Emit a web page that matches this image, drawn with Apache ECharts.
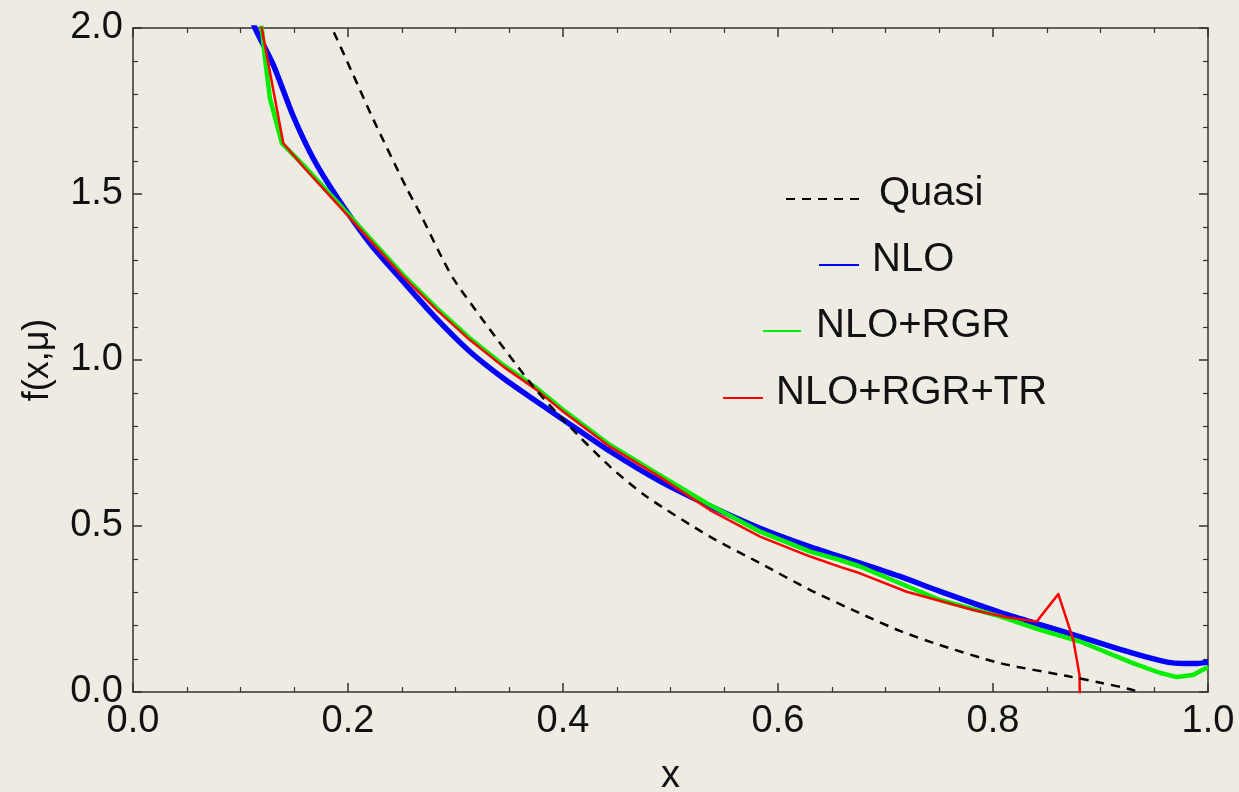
<!DOCTYPE html>
<html>
<head>
<meta charset="utf-8">
<script src="https://cdn.jsdelivr.net/npm/echarts@6/dist/echarts.min.js"></script>
<style>
html,body{margin:0;padding:0;background:#eeebe3;}
#chart{width:1239px;height:792px;}
</style>
</head>
<body>
<div id="chart"></div>
<script>
// ---- data ----
const quasiX = [0.180, 0.185, 0.204, 0.2235, 0.2546, 0.267, 0.284, 0.298, 0.3256, 0.3724, 0.4034, 0.4437, 0.478, 0.5367, 0.5833, 0.63, 0.6763, 0.7135, 0.75, 0.8065, 0.869, 0.90, 0.93, 0.94];
const quasiY = [2.03, 2.0, 1.865, 1.725, 1.517, 1.442, 1.330, 1.245, 1.120, 0.920, 0.809, 0.679, 0.588, 0.468, 0.388, 0.307, 0.237, 0.184, 0.142, 0.087, 0.048, 0.028, 0.006, -0.01];

const nloX = [0.108, 0.1135, 0.1305, 0.149, 0.1677, 0.1895, 0.2205, 0.2514, 0.2825, 0.3135, 0.3445, 0.3755, 0.404, 0.4437, 0.49, 0.5367, 0.5833, 0.63, 0.67, 0.7135, 0.7507, 0.8065, 0.8437, 0.881, 0.93, 0.962, 0.977, 0.99, 1.0];
const nloY = [2.05, 2.0, 1.889, 1.735, 1.607, 1.492, 1.351, 1.236, 1.124, 1.025, 0.945, 0.875, 0.812, 0.725, 0.635, 0.560, 0.493, 0.437, 0.395, 0.348, 0.303, 0.240, 0.203, 0.166, 0.117, 0.090, 0.086, 0.086, 0.090];

const rgrX = [0.117, 0.1197, 0.1228, 0.1274, 0.1385, 0.1584, 0.1895, 0.2205, 0.2514, 0.2825, 0.3135, 0.3445, 0.3755, 0.40, 0.4437, 0.49, 0.5367, 0.5833, 0.63, 0.6577, 0.6763, 0.7507, 0.8065, 0.8437, 0.881, 0.93, 0.955, 0.971, 0.986, 1.0];
const rgrY = [2.05, 2.0, 1.909, 1.788, 1.653, 1.587, 1.477, 1.366, 1.256, 1.156, 1.065, 0.985, 0.915, 0.850, 0.744, 0.653, 0.563, 0.483, 0.4226, 0.3976, 0.378, 0.277, 0.228, 0.187, 0.152, 0.087, 0.058, 0.045, 0.051, 0.075];

const trX = [0.119, 0.1197, 0.1398, 0.1584, 0.1895, 0.2205, 0.2514, 0.2825, 0.3135, 0.3445, 0.3755, 0.40, 0.4437, 0.49, 0.5367, 0.5833, 0.63, 0.6577, 0.6763, 0.7197, 0.7817, 0.8127, 0.8406, 0.8608, 0.8747, 0.8805, 0.8815];
const trY = [2.05, 2.0, 1.653, 1.582, 1.472, 1.361, 1.251, 1.151, 1.060, 0.980, 0.910, 0.845, 0.739, 0.648, 0.548, 0.468, 0.408, 0.377, 0.3575, 0.302, 0.247, 0.225, 0.212, 0.295, 0.157, 0.050, -0.2];

const seriesNames = ['Quasi', 'NLO', 'NLO+RGR', 'NLO+RGR+TR'];
const xTickLabels = ['0.0', '0.2', '0.4', '0.6', '0.8', '1.0'];
const yTickLabels = ['0.0', '0.5', '1.0', '1.5', '2.0'];

function pairs(xs, ys) { return xs.map((x, i) => [x, ys[i]]); }

const FONT = '"Liberation Sans", Arial, sans-serif';
const axisColor = '#333';

function xAxisCfg(pos, showLabel, name) {
  return {
    type: 'value', position: pos, min: 0, max: 1, interval: 0.2,
    name: name, nameLocation: 'middle', nameGap: 66,
    nameTextStyle: {fontSize: 38, color: '#111', fontFamily: FONT},
    axisLine: {show: true, onZero: false, lineStyle: {color: axisColor, width: 1.5}},
    axisTick: {show: true, inside: true, length: 9, lineStyle: {color: axisColor, width: 1.5}},
    minorTick: {show: true, splitNumber: 4, length: 5, lineStyle: {color: axisColor, width: 1.2}},
    splitLine: {show: false},
    axisLabel: {show: showLabel, fontSize: 38, color: '#111', fontFamily: FONT, margin: 11,
      formatter: v => xTickLabels[Math.round(v / 0.2)] }
  };
}
function yAxisCfg(pos, showLabel, name) {
  return {
    type: 'value', position: pos, min: 0, max: 2, interval: 0.5,
    name: name, nameLocation: 'middle', nameGap: 77, nameRotate: 90,
    nameTextStyle: {fontSize: 36, color: '#111', fontFamily: FONT},
    axisLine: {show: true, onZero: false, lineStyle: {color: axisColor, width: 1.5}},
    axisTick: {show: true, inside: true, length: 9, lineStyle: {color: axisColor, width: 1.5}},
    minorTick: {show: true, splitNumber: 5, length: 5, lineStyle: {color: axisColor, width: 1.2}},
    splitLine: {show: false},
    axisLabel: {show: showLabel, fontSize: 38, color: '#111', fontFamily: FONT, margin: 10,
      formatter: v => yTickLabels[Math.round(v / 0.5)] }
  };
}

function legendCfg(name, left, top, w, padLeft) {
  return {
    data: [name], left: left, top: top, padding: 0,
    itemWidth: w, itemHeight: 14, selectedMode: false,
    itemStyle: {opacity: 0},
    formatter: n => '{t|' + n + '}',
    textStyle: {color: '#111', fontFamily: FONT, fontSize: 40,
      rich: {t: {fontSize: 40, color: '#111', fontFamily: FONT, padding: [0, 0, 10, padLeft]}}}
  };
}

const chart = echarts.init(document.getElementById('chart'), null, {renderer: 'canvas'});
chart.setOption({
  animation: false,
  backgroundColor: '#eeebe3',
  grid: {left: 133, right: 31, top: 28, bottom: 100, containLabel: false, outerBoundsMode: 'none'},
  xAxis: [xAxisCfg('bottom', true, 'x'), xAxisCfg('top', false, '')],
  yAxis: [yAxisCfg('left', true, 'f(x,\u03bc)'), yAxisCfg('right', false, '')],
  legend: [
    legendCfg(seriesNames[0], 785, 174, 75, 13),
    legendCfg(seriesNames[1], 818, 240, 40, 8),
    legendCfg(seriesNames[2], 762, 306, 38, 10),
    legendCfg(seriesNames[3], 722, 373, 40, 8)
  ],
  series: [
    {name: seriesNames[1], type: 'line', data: pairs(nloX, nloY), showSymbol: false, symbol: 'none', z: 2,
      smooth: 0.25,
      lineStyle: {color: '#0000ff', width: 5.5}, itemStyle: {color: '#0000ff'}},
    {name: seriesNames[2], type: 'line', data: pairs(rgrX, rgrY), showSymbol: false, symbol: 'none', z: 3,
      lineStyle: {color: '#00ee00', width: 4.5, join: 'round'}, itemStyle: {color: '#00ee00'}},
    {name: seriesNames[3], type: 'line', data: pairs(trX, trY), showSymbol: false, symbol: 'none', z: 4,
      lineStyle: {color: '#ff0000', width: 2.5, join: 'round'}, itemStyle: {color: '#ff0000'}},
    {name: seriesNames[0], type: 'line', data: pairs(quasiX, quasiY), showSymbol: false, symbol: 'none', z: 5,
      smooth: 0.25,
      lineStyle: {color: '#000', width: 2.5, type: [9, 7]}, itemStyle: {color: '#000'}}
  ]
});
</script>
</body>
</html>
